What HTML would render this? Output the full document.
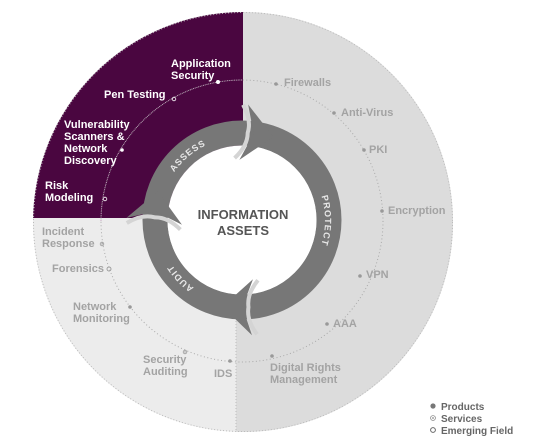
<!DOCTYPE html>
<html><head><meta charset="utf-8"><style>
html,body{margin:0;padding:0;background:#fff;}
svg{display:block;}
text{font-family:"Liberation Sans",sans-serif;font-weight:bold;}
.g{fill:#a3a3a3;font-size:11px;}
.w{fill:#fff;font-size:11px;}
</style></head><body>
<svg width="538" height="436" viewBox="0 0 538 436" xmlns="http://www.w3.org/2000/svg">
<defs>
<clipPath id="c"><circle cx="243" cy="222" r="210"/></clipPath>
<path id="tp" d="M159,220 A83,83 0 1 1 325,220 A83,83 0 1 1 159,220"/>
<g id="hd">
<path d="M-17,-114 Q-6,-100 -8,-87 Q-6,-74 -17,-60" fill="none" stroke="#d4d4d4" stroke-width="4"/>
<polygon points="-12,-115 18,-87 -12,-59 -2,-87" fill="#777"/>
</g>
</defs>
<g clip-path="url(#c)">
<rect x="0" y="0" width="538" height="436" fill="#ececec"/>
<polygon points="243,0 538,0 538,436 236,436 236,300 243,220" fill="#dcdcdc"/>
<rect x="0" y="0" width="243" height="218" fill="#4a0640"/>
</g>
<circle cx="243" cy="222" r="209.5" fill="none" stroke="#bbb" stroke-width="1" stroke-dasharray="1,2"/>
<line x1="236" y1="300" x2="236" y2="432" stroke="#bbb" stroke-dasharray="1,2"/>
<circle cx="242" cy="221" r="141" fill="none" stroke="#aaa" stroke-width="1" stroke-dasharray="1,2.5"/>
<path d="M101,221 A141,141 0 0 1 242,80" fill="none" stroke="#c9a9c3" stroke-width="1" stroke-dasharray="1,2.5"/>
<!-- ring -->
<circle cx="242" cy="220" r="87" fill="none" stroke="#777" stroke-width="25"/>
<circle cx="242" cy="220" r="74.5" fill="#fff"/>
<g transform="translate(242,220)">
<use href="#hd" transform="rotate(9)"/>
<use href="#hd" transform="rotate(277)"/>
<use href="#hd" transform="rotate(181)"/>
</g>
<text font-size="9" fill="#e8e8e8" letter-spacing="1"><textPath href="#tp" startOffset="72" text-anchor="middle">ASSESS</textPath></text>
<text font-size="9" fill="#e8e8e8" letter-spacing="1"><textPath href="#tp" startOffset="261" text-anchor="middle">PROTECT</textPath></text>
<text font-size="9" fill="#e8e8e8" letter-spacing="1"><textPath href="#tp" startOffset="458" text-anchor="middle">AUDIT</textPath></text>
<text x="243" y="219" text-anchor="middle" font-size="13" fill="#555">INFORMATION</text>
<text x="243" y="235" text-anchor="middle" font-size="13" fill="#555">ASSETS</text>
<!-- purple labels -->
<text class="w" x="171" y="67">Application</text>
<text class="w" x="171" y="79">Security</text>
<circle cx="218" cy="82" r="2" fill="#fff"/>
<text class="w" x="104" y="98">Pen Testing</text>
<circle cx="174" cy="99" r="1.8" fill="none" stroke="#fff" stroke-width="0.8"/>
<text class="w" x="64" y="128">Vulnerability</text>
<text class="w" x="64" y="140">Scanners &amp;</text>
<text class="w" x="64" y="152">Network</text>
<text class="w" x="64" y="164">Discovery</text>
<circle cx="122" cy="150" r="1.8" fill="#fff"/>
<text class="w" x="45" y="189">Risk</text>
<text class="w" x="45" y="201">Modeling</text>
<circle cx="105" cy="199" r="1.8" fill="none" stroke="#fff" stroke-width="0.8"/>
<!-- right labels -->
<circle cx="276" cy="84" r="1.8" fill="#999"/><text class="g" x="284" y="86">Firewalls</text>
<circle cx="334" cy="113" r="1.8" fill="#999"/><text class="g" x="341" y="116">Anti-Virus</text>
<circle cx="364" cy="150" r="1.8" fill="#999"/><text class="g" x="369" y="153">PKI</text>
<circle cx="382" cy="211" r="1.8" fill="#999"/><text class="g" x="388" y="214">Encryption</text>
<circle cx="360" cy="276" r="1.8" fill="#999"/><text class="g" x="366" y="278">VPN</text>
<circle cx="327" cy="324" r="1.8" fill="#999"/><text class="g" x="333" y="327">AAA</text>
<circle cx="272" cy="356" r="1.8" fill="#999"/><text class="g" x="270" y="371">Digital Rights</text><text class="g" x="270" y="383">Management</text>
<circle cx="230" cy="361" r="1.8" fill="#999"/><text class="g" x="214" y="377">IDS</text>
<circle cx="185" cy="352" r="1.8" fill="none" stroke="#999" stroke-width="0.8"/><circle cx="185" cy="352" r="0.7" fill="#999"/>
<text class="g" x="143" y="363">Security</text><text class="g" x="143" y="375">Auditing</text>
<circle cx="130" cy="307" r="1.8" fill="#999"/><text class="g" x="73" y="310">Network</text><text class="g" x="73" y="322">Monitoring</text>
<circle cx="109" cy="269" r="2" fill="none" stroke="#999" stroke-width="0.9"/><text class="g" x="52" y="272">Forensics</text>
<circle cx="102" cy="244" r="1.8" fill="none" stroke="#999" stroke-width="0.8"/><circle cx="102" cy="244" r="0.7" fill="#999"/>
<text class="g" x="42" y="235">Incident</text><text class="g" x="42" y="247">Response</text>
<!-- legend -->
<circle cx="433" cy="406" r="2.6" fill="#777"/><text x="441" y="410" font-size="10" fill="#666">Products</text>
<circle cx="433" cy="418" r="2.4" fill="none" stroke="#888" stroke-width="0.8"/><circle cx="433" cy="418" r="0.9" fill="#888"/><text x="441" y="422" font-size="10" fill="#666">Services</text>
<circle cx="433" cy="430" r="2.4" fill="none" stroke="#666" stroke-width="1"/><text x="441" y="434" font-size="10" fill="#666">Emerging Field</text>
</svg>
</body></html>
